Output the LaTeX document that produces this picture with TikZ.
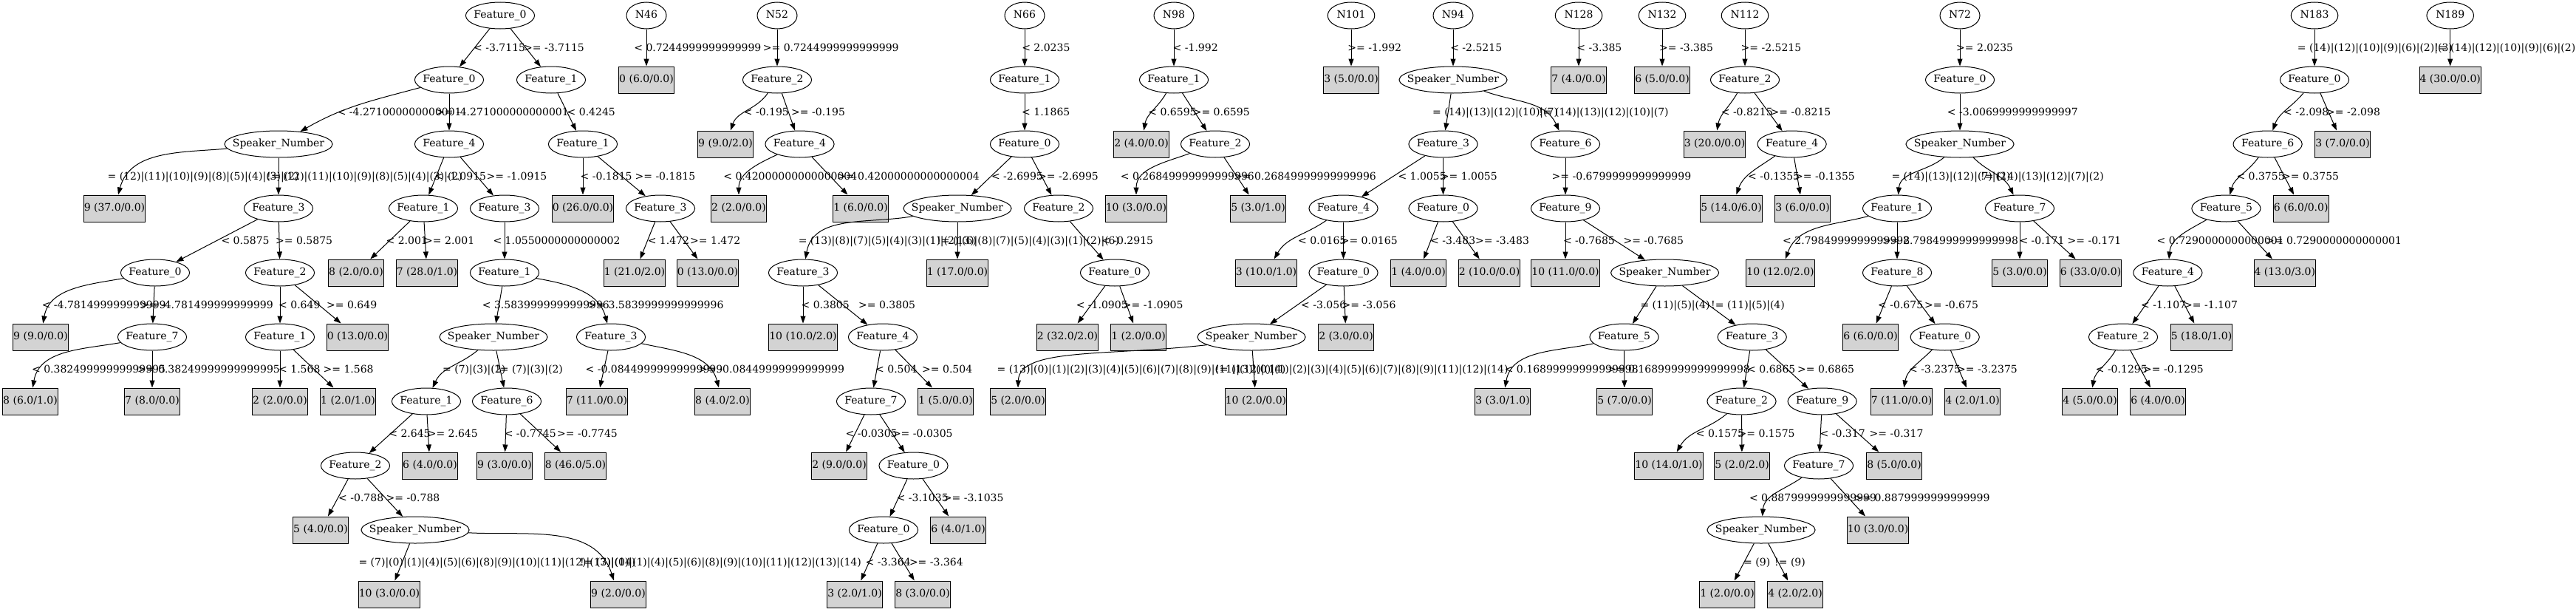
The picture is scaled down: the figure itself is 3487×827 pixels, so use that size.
\documentclass[tikz,border=0pt]{standalone}
\usepackage{fontspec}
\setmainfont{DejaVu Serif}
\usetikzlibrary{arrows.meta,shapes.geometric}
\definecolor{leafgray}{HTML}{D3D3D3}

\begin{document}
\begin{tikzpicture}[x=1pt,y=-1pt,font=\fontsize{14}{17}\selectfont,
  feat/.style={ellipse,draw,line width=1pt,minimum height=36pt,inner xsep=-2.6pt,inner ysep=0pt,text height=10pt,text depth=3pt},
  spk/.style={ellipse,draw,line width=1pt,minimum height=36pt,inner xsep=-10.4pt,inner ysep=0pt,text height=10pt,text depth=3pt},
  root/.style={ellipse,draw,line width=1pt,minimum height=36pt,minimum width=54pt,inner xsep=3pt,inner ysep=0pt,text height=10pt,text depth=3pt},
  leaf/.style={rectangle,draw,line width=1pt,fill=leafgray,minimum height=36pt,inner xsep=0.5pt,inner ysep=0pt,text height=10pt,text depth=3pt},
  link/.style={line width=1pt,-{Triangle[length=10pt,width=7pt]}},
  lbl/.style={anchor=base west,inner sep=0pt,yshift=-5pt}]
\useasboundingbox (0,0) rectangle (3487,827);

% first tree
\node[feat] (a0) at (677,21) {Feature\_0};
\node[feat] (a1) at (608,108) {Feature\_0};
\node[feat] (a2) at (746,108) {Feature\_1};
\node[spk] (a3) at (377,195) {Speaker\_Number};
\node[feat] (a4) at (608,195) {Feature\_4};
\node[feat] (a5) at (789,195) {Feature\_1};
\node[leaf] (a6) at (155,282) {9 (37.0/0.0)};
\node[feat] (a7) at (377,282) {Feature\_3};
\node[feat] (a8) at (573,282) {Feature\_1};
\node[feat] (a9) at (683,282) {Feature\_3};
\node[leaf] (a10) at (789,282) {0 (26.0/0.0)};
\node[feat] (a11) at (894,282) {Feature\_3};
\node[feat] (a12) at (210,369) {Feature\_0};
\node[feat] (a13) at (379,369) {Feature\_2};
\node[leaf] (a14) at (482,369) {8 (2.0/0.0)};
\node[leaf] (a15) at (578,369) {7 (28.0/1.0)};
\node[feat] (a16) at (683,369) {Feature\_1};
\node[leaf] (a17) at (859,369) {1 (21.0/2.0)};
\node[leaf] (a18) at (958,369) {0 (13.0/0.0)};
\node[leaf] (a19) at (55,456) {9 (9.0/0.0)};
\node[feat] (a20) at (206,456) {Feature\_7};
\node[feat] (a21) at (379,456) {Feature\_1};
\node[leaf] (a22) at (484,456) {0 (13.0/0.0)};
\node[spk] (a23) at (668,456) {Speaker\_Number};
\node[feat] (a24) at (827,456) {Feature\_3};
\node[leaf] (a25) at (41,543) {8 (6.0/1.0)};
\node[leaf] (a26) at (206,543) {7 (8.0/0.0)};
\node[leaf] (a27) at (379,543) {2 (2.0/0.0)};
\node[leaf] (a28) at (471,543) {1 (2.0/1.0)};
\node[feat] (a29) at (577,543) {Feature\_1};
\node[feat] (a30) at (686,543) {Feature\_6};
\node[leaf] (a31) at (808,543) {7 (11.0/0.0)};
\node[leaf] (a32) at (978,543) {8 (4.0/2.0)};
\node[feat] (a33) at (481,630) {Feature\_2};
\node[leaf] (a34) at (582,630) {6 (4.0/0.0)};
\node[leaf] (a35) at (683,630) {9 (3.0/0.0)};
\node[leaf] (a36) at (779,630) {8 (46.0/5.0)};
\node[leaf] (a37) at (434,717) {5 (4.0/0.0)};
\node[spk] (a38) at (562,717) {Speaker\_Number};
\node[leaf] (a39) at (527,804) {10 (3.0/0.0)};
\node[leaf] (a40) at (837,804) {9 (2.0/0.0)};

\draw[link] (a0) -- (a1); \node[lbl] (la1) at (641,64.5) {< -3.7115};
\draw[link] (a0) -- (a2); \node[lbl] (la2) at (709,64.5) {>= -3.7115};
\draw[link] (a1) to[out=195,in=30] (a3); \node[lbl] (la3) at (456.6,151.5) {< -4.271000000000001};
\draw[link] (a1) -- (a4); \node[lbl] (la4) at (590,151.5) {>= -4.271000000000001};
\draw[link] (a2) -- (a5); \node[lbl] (la5) at (767.5,151.5) {< 0.4245};
\draw[link] (a3) to[out=185,in=75] (a6); \node[lbl] (la6) at (145.4,238.5) {= (12)|(11)|(10)|(9)|(8)|(5)|(4)|(3)|(2)};
\draw[link] (a3) -- (a7); \node[lbl] (la7) at (361,238.5) {!= (12)|(11)|(10)|(9)|(8)|(5)|(4)|(3)|(2)};
\draw[link] (a4) -- (a8); \node[lbl] (la8) at (588,238.5) {< -1.0915};
\draw[link] (a4) -- (a9); \node[lbl] (la9) at (658.5,238.5) {>= -1.0915};
\draw[link] (a5) -- (a10); \node[lbl] (la10) at (785.5,238.5) {< -0.1815};
\draw[link] (a5) -- (a11); \node[lbl] (la11) at (859.4,238.5) {>= -0.1815};
\draw[link] (a7) -- (a12); \node[lbl] (la12) at (299.3,325.5) {< 0.5875};
\draw[link] (a7) -- (a13); \node[lbl] (la13) at (373,325.5) {>= 0.5875};
\draw[link] (a8) -- (a14); \node[lbl] (la14) at (522.4,325.5) {< 2.001};
\draw[link] (a8) -- (a15); \node[lbl] (la15) at (574,325.5) {>= 2.001};
\draw[link] (a9) -- (a16); \node[lbl] (la16) at (667.3,325.5) {< 1.0550000000000002};
\draw[link] (a11) -- (a17); \node[lbl] (la17) at (876.6,325.5) {< 1.472};
\draw[link] (a11) -- (a18); \node[lbl] (la18) at (934,325.5) {>= 1.472};
\draw[link] (a12) to[out=190,in=80] (a19); \node[lbl] (la19) at (56.6,412.5) {< -4.781499999999999};
\draw[link] (a12) -- (a20); \node[lbl] (la20) at (190,412.5) {>= -4.781499999999999};
\draw[link] (a13) -- (a21); \node[lbl] (la21) at (377,412.5) {< 0.649};
\draw[link] (a13) -- (a22); \node[lbl] (la22) at (442,412.5) {>= 0.649};
\draw[link] (a16) -- (a23); \node[lbl] (la23) at (652.7,412.5) {< 3.5839999999999996};
\draw[link] (a16) to[out=-10,in=105] (a24); \node[lbl] (la24) at (795.5,412.5) {>= 3.5839999999999996};
\draw[link] (a20) to[out=190,in=80] (a25); \node[lbl] (la25) at (42.9,499.5) {< 0.38249999999999995};
\draw[link] (a20) -- (a26); \node[lbl] (la26) at (186,499.5) {>= 0.38249999999999995};
\draw[link] (a21) -- (a27); \node[lbl] (la27) at (377,499.5) {< 1.568};
\draw[link] (a21) -- (a28); \node[lbl] (la28) at (437.4,499.5) {>= 1.568};
\draw[link] (a23) to[out=220,in=65] (a29); \node[lbl] (la29) at (599,499.5) {= (7)|(3)|(2)};
\draw[link] (a23) -- (a30); \node[lbl] (la30) at (671,499.5) {!= (7)|(3)|(2)};
\draw[link] (a24) -- (a31); \node[lbl] (la31) at (792.4,499.5) {< -0.08449999999999999};
\draw[link] (a24) to[out=-12,in=105] (a32); \node[lbl] (la32) at (945.4,499.5) {>= -0.08449999999999999};
\draw[link] (a29) -- (a33); \node[lbl] (la33) at (526.2,586.5) {< 2.645};
\draw[link] (a29) -- (a34); \node[lbl] (la34) at (578.6,586.5) {>= 2.645};
\draw[link] (a30) -- (a35); \node[lbl] (la35) at (682.6,586.5) {< -0.7745};
\draw[link] (a30) -- (a36); \node[lbl] (la36) at (754,586.5) {>= -0.7745};
\draw[link] (a33) -- (a37); \node[lbl] (la37) at (458,673.5) {< -0.788};
\draw[link] (a33) -- (a38); \node[lbl] (la38) at (522.4,673.5) {>= -0.788};
\draw[link] (a38) -- (a39); \node[lbl] (la39) at (485.3,760.5) {= (7)|(0)|(1)|(4)|(5)|(6)|(8)|(9)|(10)|(11)|(12)|(13)|(14)};
\draw[link] (a38) to[out=-3,in=108] (a40); \node[lbl] (la40) at (785,760.5) {!= (7)|(0)|(1)|(4)|(5)|(6)|(8)|(9)|(10)|(11)|(12)|(13)|(14)};

% N46, N52
\node[root] (b0) at (875,21) {N46};
\node[leaf] (b1) at (875,108) {0 (6.0/0.0)};
\draw[link] (b0) -- (b1); \node[lbl] (lb1) at (858.2,64.5) {< 0.7244999999999999};

\node[root] (c0) at (1052,21) {N52};
\node[feat] (c1) at (1052,108) {Feature\_2};
\node[leaf] (c2) at (982,195) {9 (9.0/2.0)};
\node[feat] (c3) at (1082.5,195) {Feature\_4};
\node[leaf] (c4) at (1000,282) {2 (2.0/0.0)};
\node[leaf] (c5) at (1165,282) {1 (6.0/0.0)};
\draw[link] (c0) -- (c1); \node[lbl] (lc1) at (1032.7,64.5) {>= 0.7244999999999999};
\draw[link] (c1) to[out=235,in=70] (c2); \node[lbl] (lc2) at (1006.7,151.5) {< -0.195};
\draw[link] (c1) -- (c3); \node[lbl] (lc3) at (1071,151.5) {>= -0.195};
\draw[link] (c3) to[out=205,in=90] (c4); \node[lbl] (lc4) at (979.2,238.5) {< 0.42000000000000004};
\draw[link] (c3) -- (c5); \node[lbl] (lc5) at (1133,238.5) {>= 0.42000000000000004};

% N66
\node[root] (d0) at (1387,21) {N66};
\node[feat] (d1) at (1387,108) {Feature\_1};
\node[feat] (d2) at (1387,195) {Feature\_0};
\node[spk] (d3) at (1296,282) {Speaker\_Number};
\node[feat] (d4) at (1433,282) {Feature\_2};
\node[feat] (d5) at (1087,369) {Feature\_3};
\node[leaf] (d6) at (1296,369) {1 (17.0/0.0)};
\node[feat] (d7) at (1509,369) {Feature\_0};
\node[leaf] (d8) at (1087,456) {10 (10.0/2.0)};
\node[feat] (d9) at (1195,456) {Feature\_4};
\node[leaf] (d10) at (1445,456) {2 (32.0/2.0)};
\node[leaf] (d11) at (1541,456) {1 (2.0/0.0)};
\node[feat] (d12) at (1179,543) {Feature\_7};
\node[leaf] (d13) at (1280,543) {1 (5.0/0.0)};
\node[leaf] (d14) at (1136,630) {2 (9.0/0.0)};
\node[feat] (d15) at (1236.5,630) {Feature\_0};
\node[feat] (d16) at (1196,717) {Feature\_0};
\node[leaf] (d17) at (1297,717) {6 (4.0/1.0)};
\node[leaf] (d18) at (1157,804) {3 (2.0/1.0)};
\node[leaf] (d19) at (1249,804) {8 (3.0/0.0)};
\draw[link] (d0) -- (d1); \node[lbl] (ld1) at (1383.1,64.5) {< 2.0235};
\draw[link] (d1) -- (d2); \node[lbl] (ld2) at (1383,151.5) {< 1.1865};
\draw[link] (d2) -- (d3); \node[lbl] (ld3) at (1341.8,238.5) {< -2.6995};
\draw[link] (d2) -- (d4); \node[lbl] (ld4) at (1405,238.5) {>= -2.6995};
\draw[link] (d3) to[out=190,in=80] (d5); \node[lbl] (ld5) at (1080.6,325.5) {= (13)|(8)|(7)|(5)|(4)|(3)|(1)|(2)|(6)};
\draw[link] (d3) -- (d6); \node[lbl] (ld6) at (1268,325.5) {!= (13)|(8)|(7)|(5)|(4)|(3)|(1)|(2)|(6)};
\draw[link] (d4) -- (d7); \node[lbl] (ld7) at (1491,325.5) {< -0.2915};
\draw[link] (d5) -- (d8); \node[lbl] (ld8) at (1084.4,412.5) {< 0.3805};
\draw[link] (d5) -- (d9); \node[lbl] (ld9) at (1162,412.5) {>= 0.3805};
\draw[link] (d7) -- (d10); \node[lbl] (ld10) at (1456.6,412.5) {< -1.0905};
\draw[link] (d7) -- (d11); \node[lbl] (ld11) at (1519.7,412.5) {>= -1.0905};
\draw[link] (d9) -- (d12); \node[lbl] (ld12) at (1185,499.5) {< 0.504};
\draw[link] (d9) -- (d13); \node[lbl] (ld13) at (1248,499.5) {>= 0.504};
\draw[link] (d12) -- (d14); \node[lbl] (ld14) at (1144.5,586.5) {< -0.0305};
\draw[link] (d12) -- (d15); \node[lbl] (ld15) at (1207.8,586.5) {>= -0.0305};
\draw[link] (d15) -- (d16); \node[lbl] (ld16) at (1213.6,673.5) {< -3.1035};
\draw[link] (d15) -- (d17); \node[lbl] (ld17) at (1276.7,673.5) {>= -3.1035};
\draw[link] (d16) -- (d18); \node[lbl] (ld18) at (1171.5,760.5) {< -3.364};
\draw[link] (d16) -- (d19); \node[lbl] (ld19) at (1230.8,760.5) {>= -3.364};

% N98, N101
\node[root] (e0) at (1589,21) {N98};
\node[feat] (e1) at (1589,108) {Feature\_1};
\node[leaf] (e2) at (1545,195) {2 (4.0/0.0)};
\node[feat] (e3) at (1645,195) {Feature\_2};
\node[leaf] (e4) at (1538,282) {10 (3.0/0.0)};
\node[leaf] (e5) at (1703,282) {5 (3.0/1.0)};
\draw[link] (e0) -- (e1); \node[lbl] (le1) at (1587.5,64.5) {< -1.992};
\draw[link] (e1) to[out=240,in=80] (e2); \node[lbl] (le2) at (1554.2,151.5) {< 0.6595};
\draw[link] (e1) -- (e3); \node[lbl] (le3) at (1614.6,151.5) {>= 0.6595};
\draw[link] (e3) to[out=200,in=90] (e4); \node[lbl] (le4) at (1516.7,238.5) {< 0.26849999999999996};
\draw[link] (e3) -- (e5); \node[lbl] (le5) at (1670,238.5) {>= 0.26849999999999996};

\node[root] (f0) at (1829,21) {N101};
\node[leaf] (f1) at (1829,108) {3 (5.0/0.0)};
\draw[link] (f0) -- (f1); \node[lbl] (lf1) at (1824.2,64.5) {>= -1.992};

% N94
\node[root] (g0) at (1967,21) {N94};
\node[spk] (g1) at (1967,108) {Speaker\_Number};
\node[feat] (g2) at (1953.5,195) {Feature\_3};
\node[feat] (g3) at (2119,195) {Feature\_6};
\node[feat] (g4) at (1818.5,282) {Feature\_4};
\node[feat] (g5) at (1953.5,282) {Feature\_0};
\node[feat] (g6) at (2119,282) {Feature\_9};
\node[leaf] (g7) at (1714,369) {3 (10.0/1.0)};
\node[feat] (g8) at (1818.5,369) {Feature\_0};
\node[leaf] (g9) at (1920,369) {1 (4.0/0.0)};
\node[leaf] (g10) at (2016,369) {2 (10.0/0.0)};
\node[leaf] (g11) at (2119,369) {10 (11.0/0.0)};
\node[spk] (g12) at (2253.6,369) {Speaker\_Number};
\node[spk] (g13) at (1694,456) {Speaker\_Number};
\node[leaf] (g14) at (1822,456) {2 (3.0/0.0)};
\node[feat] (g15) at (2198.5,456) {Feature\_5};
\node[feat] (g16) at (2371.7,456) {Feature\_3};
\node[leaf] (g17) at (1378,543) {5 (2.0/0.0)};
\node[leaf] (g18) at (1700,543) {10 (2.0/0.0)};
\node[leaf] (g19) at (2034,543) {3 (3.0/1.0)};
\node[leaf] (g20) at (2199,543) {5 (7.0/0.0)};
\node[feat] (g21) at (2357.5,543) {Feature\_2};
\node[feat] (g22) at (2466.6,543) {Feature\_9};
\node[leaf] (g23) at (2259,630) {10 (14.0/1.0)};
\node[leaf] (g24) at (2358,630) {5 (2.0/2.0)};
\node[feat] (g25) at (2462,630) {Feature\_7};
\node[leaf] (g26) at (2564,630) {8 (5.0/0.0)};
\node[spk] (g27) at (2384,717) {Speaker\_Number};
\node[leaf] (g28) at (2542,717) {10 (3.0/0.0)};
\node[leaf] (g29) at (2338,804) {1 (2.0/0.0)};
\node[leaf] (g30) at (2430,804) {4 (2.0/2.0)};
\draw[link] (g0) -- (g1); \node[lbl] (lg1) at (1963.1,64.5) {< -2.5215};
\draw[link] (g1) -- (g2); \node[lbl] (lg2) at (1939,151.5) {= (14)|(13)|(12)|(10)|(7)};
\draw[link] (g1) to[out=-20,in=115] (g3); \node[lbl] (lg3) at (2083,151.5) {!= (14)|(13)|(12)|(10)|(7)};
\draw[link] (g2) -- (g4); \node[lbl] (lg4) at (1892.3,238.5) {< 1.0055};
\draw[link] (g2) -- (g5); \node[lbl] (lg5) at (1949.7,238.5) {>= 1.0055};
\draw[link] (g3) -- (g6); \node[lbl] (lg6) at (2100.5,238.5) {>= -0.6799999999999999};
\draw[link] (g4) to[out=215,in=60] (g7); \node[lbl] (lg7) at (1757,325.5) {< 0.0165};
\draw[link] (g4) -- (g8); \node[lbl] (lg8) at (1814.6,325.5) {>= 0.0165};
\draw[link] (g5) -- (g9); \node[lbl] (lg9) at (1936,325.5) {< -3.483};
\draw[link] (g5) -- (g10); \node[lbl] (lg10) at (1997,325.5) {>= -3.483};
\draw[link] (g6) -- (g11); \node[lbl] (lg11) at (2115.8,325.5) {< -0.7685};
\draw[link] (g6) -- (g12); \node[lbl] (lg12) at (2197.3,325.5) {>= -0.7685};
\draw[link] (g8) -- (g13); \node[lbl] (lg13) at (1761,412.5) {< -3.056};
\draw[link] (g8) -- (g14); \node[lbl] (lg14) at (1816.5,412.5) {>= -3.056};
\draw[link] (g12) -- (g15); \node[lbl] (lg15) at (2220.3,412.5) {= (11)|(5)|(4)};
\draw[link] (g12) -- (g16); \node[lbl] (lg16) at (2316,412.5) {!= (11)|(5)|(4)};
\draw[link] (g13.190) .. controls (1500,482) and (1380,470) .. (g17.north); \node[lbl] (lg17) at (1349.4,499.5) {= (13)|(0)|(1)|(2)|(3)|(4)|(5)|(6)|(7)|(8)|(9)|(11)|(12)|(14)};
\draw[link] (g13) -- (g18); \node[lbl] (lg18) at (1645,499.5) {!= (13)|(0)|(1)|(2)|(3)|(4)|(5)|(6)|(7)|(8)|(9)|(11)|(12)|(14)};
\draw[link] (g15) to[out=192,in=80] (g19); \node[lbl] (lg19) at (2036.6,499.5) {< 0.16899999999999998};
\draw[link] (g15) -- (g20); \node[lbl] (lg20) at (2176,499.5) {>= 0.16899999999999998};
\draw[link] (g16) -- (g21); \node[lbl] (lg21) at (2365,499.5) {< 0.6865};
\draw[link] (g16) -- (g22); \node[lbl] (lg22) at (2433,499.5) {>= 0.6865};
\draw[link] (g21) to[out=220,in=60] (g23); \node[lbl] (lg23) at (2295.7,586.5) {< 0.1575};
\draw[link] (g21) -- (g24); \node[lbl] (lg24) at (2352.5,586.5) {>= 0.1575};
\draw[link] (g22) -- (g25); \node[lbl] (lg25) at (2463.5,586.5) {< -0.317};
\draw[link] (g22) -- (g26); \node[lbl] (lg26) at (2530.5,586.5) {>= -0.317};
\draw[link] (g25) to[out=215,in=85] (g27); \node[lbl] (lg27) at (2367.8,673.5) {< 0.8879999999999999};
\draw[link] (g25) -- (g28); \node[lbl] (lg28) at (2509.5,673.5) {>= 0.8879999999999999};
\draw[link] (g27) -- (g29); \node[lbl] (lg29) at (2360,760.5) {= (9)};
\draw[link] (g27) -- (g30); \node[lbl] (lg30) at (2402,760.5) {!= (9)};

% N128, N132, N112
\node[root] (h0) at (2137,21) {N128};
\node[leaf] (h1) at (2137,108) {7 (4.0/0.0)};
\draw[link] (h0) -- (h1); \node[lbl] (lh1) at (2134.2,64.5) {< -3.385};

\node[root] (i0) at (2250,21) {N132};
\node[leaf] (i1) at (2250,108) {6 (5.0/0.0)};
\draw[link] (i0) -- (i1); \node[lbl] (li1) at (2246,64.5) {>= -3.385};

\node[root] (j0) at (2362,21) {N112};
\node[feat] (j1) at (2362,108) {Feature\_2};
\node[leaf] (j2) at (2321,195) {3 (20.0/0.0)};
\node[feat] (j3) at (2425.6,195) {Feature\_4};
\node[leaf] (j4) at (2343.5,282) {5 (14.0/6.0)};
\node[leaf] (j5) at (2440,282) {3 (6.0/0.0)};
\draw[link] (j0) -- (j1); \node[lbl] (lj1) at (2356.4,64.5) {>= -2.5215};
\draw[link] (j1) to[out=240,in=80] (j2); \node[lbl] (lj2) at (2329.6,151.5) {< -0.8215};
\draw[link] (j1) -- (j3); \node[lbl] (lj3) at (2396.5,151.5) {>= -0.8215};
\draw[link] (j3) to[out=215,in=70] (j4); \node[lbl] (lj4) at (2366,238.5) {< -0.1355};
\draw[link] (j3) -- (j5); \node[lbl] (lj5) at (2429,238.5) {>= -0.1355};

% N72
\node[root] (k0) at (2653,21) {N72};
\node[feat] (k1) at (2653,108) {Feature\_0};
\node[spk] (k2) at (2653,195) {Speaker\_Number};
\node[feat] (k3) at (2568,282) {Feature\_1};
\node[feat] (k4) at (2734,282) {Feature\_7};
\node[leaf] (k5) at (2410,369) {10 (12.0/2.0)};
\node[feat] (k6) at (2568,369) {Feature\_8};
\node[leaf] (k7) at (2734,369) {5 (3.0/0.0)};
\node[leaf] (k8) at (2830,369) {6 (33.0/0.0)};
\node[leaf] (k9) at (2532,456) {6 (6.0/0.0)};
\node[feat] (k10) at (2632.7,456) {Feature\_0};
\node[leaf] (k11) at (2574,543) {7 (11.0/0.0)};
\node[leaf] (k12) at (2670,543) {4 (2.0/1.0)};
\draw[link] (k0) -- (k1); \node[lbl] (lk1) at (2648,64.5) {>= 2.0235};
\draw[link] (k1) -- (k2); \node[lbl] (lk2) at (2635.7,151.5) {< -3.0069999999999997};
\draw[link] (k2) to[out=220,in=85] (k3); \node[lbl] (lk3) at (2560.3,238.5) {= (14)|(13)|(12)|(7)|(2)};
\draw[link] (k2) to[out=-45,in=115] (k4); \node[lbl] (lk4) at (2681,238.5) {!= (14)|(13)|(12)|(7)|(2)};
\draw[link] (k3) to[out=195,in=70] (k5); \node[lbl] (lk5) at (2413,325.5) {< 2.7984999999999998};
\draw[link] (k3) -- (k6); \node[lbl] (lk6) at (2548,325.5) {>= 2.7984999999999998};
\draw[link] (k4) -- (k7); \node[lbl] (lk7) at (2733.3,325.5) {< -0.171};
\draw[link] (k4) -- (k8); \node[lbl] (lk8) at (2798.4,325.5) {>= -0.171};
\draw[link] (k6) -- (k9); \node[lbl] (lk9) at (2542,412.5) {< -0.675};
\draw[link] (k6) -- (k10); \node[lbl] (lk10) at (2605,412.5) {>= -0.675};
\draw[link] (k10) to[out=225,in=80] (k11); \node[lbl] (lk11) at (2584,499.5) {< -3.2375};
\draw[link] (k10) -- (k12); \node[lbl] (lk12) at (2649,499.5) {>= -3.2375};

% N183, N189
\node[root] (l0) at (3133,21) {N183};
\node[feat] (l1) at (3133,108) {Feature\_0};
\node[feat] (l2) at (3069.6,195) {Feature\_6};
\node[leaf] (l3) at (3171,195) {3 (7.0/0.0)};
\node[feat] (l4) at (3013.4,282) {Feature\_5};
\node[leaf] (l5) at (3114.7,282) {6 (6.0/0.0)};
\node[feat] (l6) at (2934.4,369) {Feature\_4};
\node[leaf] (l7) at (3092.8,369) {4 (13.0/3.0)};
\node[feat] (l8) at (2874,456) {Feature\_2};
\node[leaf] (l9) at (2980,456) {5 (18.0/1.0)};
\node[leaf] (l10) at (2829,543) {4 (5.0/0.0)};
\node[leaf] (l11) at (2921,543) {6 (4.0/0.0)};
\draw[link] (l0) -- (l1); \node[lbl] (ll1) at (3109.7,64.5) {= (14)|(12)|(10)|(9)|(6)|(2)|(3)};
\draw[link] (l1) to[out=230,in=70] (l2); \node[lbl] (ll2) at (3091,151.5) {< -2.098};
\draw[link] (l1) -- (l3); \node[lbl] (ll3) at (3149,151.5) {>= -2.098};
\draw[link] (l2) to[out=235,in=75] (l4); \node[lbl] (ll4) at (3027.3,238.5) {< 0.3755};
\draw[link] (l2) -- (l5); \node[lbl] (ll5) at (3089,238.5) {>= 0.3755};
\draw[link] (l4) to[out=210,in=85] (l6); \node[lbl] (ll6) at (2919.5,325.5) {< 0.7290000000000001};
\draw[link] (l4) -- (l7); \node[lbl] (ll7) at (3067,325.5) {>= 0.7290000000000001};
\draw[link] (l6) -- (l8); \node[lbl] (ll8) at (2898,412.5) {< -1.107};
\draw[link] (l6) -- (l9); \node[lbl] (ll9) at (2956,412.5) {>= -1.107};
\draw[link] (l8) to[out=240,in=80] (l10); \node[lbl] (ll10) at (2836.6,499.5) {< -0.1295};
\draw[link] (l8) -- (l11); \node[lbl] (ll11) at (2901,499.5) {>= -0.1295};

\node[root] (m0) at (3316.7,21) {N189};
\node[leaf] (m1) at (3316.7,108) {4 (30.0/0.0)};
\draw[link] (m0) -- (m1); \node[lbl] (lm1) at (3295,64.5) {!= (14)|(12)|(10)|(9)|(6)|(2)|(3)};
\end{tikzpicture}
\end{document}
